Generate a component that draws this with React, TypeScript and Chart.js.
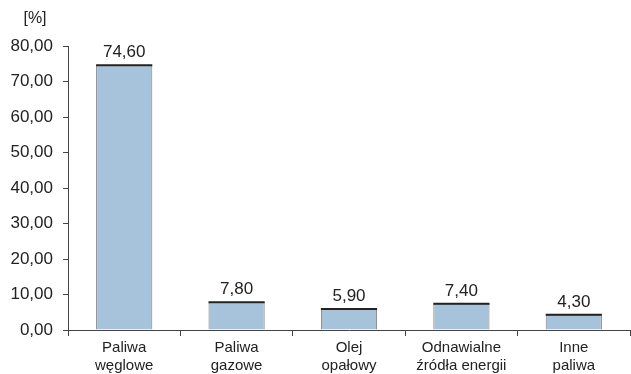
import React, { useEffect, useRef } from "react";
import { Chart, registerables } from "chart.js";

Chart.register(...registerables);

const categories: string[][] = [
  ["Paliwa", "węglowe"],
  ["Paliwa", "gazowe"],
  ["Olej", "opałowy"],
  ["Odnawialne", "źródła energii"],
  ["Inne", "paliwa"],
];
const values: number[] = [74.6, 7.8, 5.9, 7.4, 4.3];
const yUnit = "[%]";

const fmt = (v: number) => v.toFixed(2).replace(".", ",");

const FONT = "'Liberation Sans', Arial, sans-serif";

const overlayPlugin = {
  id: "overlay",
  afterDatasetsDraw(chart: any) {
    const ctx = chart.ctx;
    const meta = chart.getDatasetMeta(0);
    ctx.save();
    meta.data.forEach((bar: any, i: number) => {
      const half = bar.width / 2;
      ctx.strokeStyle = "#222";
      ctx.lineWidth = 2;
      ctx.beginPath();
      ctx.moveTo(bar.x - half, bar.y);
      ctx.lineTo(bar.x + half, bar.y);
      ctx.stroke();
      ctx.fillStyle = "#222";
      ctx.font = `17px ${FONT}`;
      ctx.textAlign = "center";
      ctx.textBaseline = "alphabetic";
      ctx.fillText(fmt(values[i]), bar.x, bar.y - 8);
    });
    ctx.fillStyle = "#222";
    ctx.font = `16px ${FONT}`;
    ctx.textAlign = "center";
    ctx.textBaseline = "middle";
    ctx.fillText(yUnit, 35, 19);
    ctx.restore();
  },
};

export default function App() {
  const ref = useRef<HTMLCanvasElement>(null);
  useEffect(() => {
    document.body.style.margin = "0";
    const chart = new Chart(ref.current as HTMLCanvasElement, {
      type: "bar",
      data: {
        labels: categories,
        datasets: [
          {
            data: values,
            backgroundColor: "#a7c3dc",
            borderColor: "#7f7f7f",
            borderWidth: { left: 1, right: 1, top: 1, bottom: 0 },
            borderSkipped: false,
            categoryPercentage: 1,
            barPercentage: 0.5,
          },
        ],
      },
      options: {
        responsive: false,
        animation: false,
        devicePixelRatio: 1,
        layout: { padding: { top: 46, right: 1, left: 0, bottom: 0 } },
        plugins: { legend: { display: false }, tooltip: { enabled: false } },
        scales: {
          x: {
            grid: {
              drawOnChartArea: false,
              drawTicks: true,
              tickLength: 6,
              color: "#444",
              offset: true,
            },
            border: { color: "#444", width: 1 },
            ticks: {
              color: "#222",
              font: { family: FONT, size: 15, lineHeight: 1.2 },
              padding: 3,
              maxRotation: 0,
              autoSkip: false,
            },
            afterFit(scale: any) {
              scale.height = 44;
            },
          },
          y: {
            min: 0,
            max: 80,
            ticks: {
              stepSize: 10,
              color: "#222",
              font: { family: FONT, size: 17 },
              padding: 10,
              callback: (v: any) => fmt(Number(v)),
            },
            grid: {
              drawOnChartArea: false,
              drawTicks: true,
              tickLength: 5,
              color: "#444",
            },
            border: { color: "#444", width: 1 },
            afterFit(scale: any) {
              scale.width = 68;
            },
          },
        },
      },
      plugins: [overlayPlugin],
    });
    return () => chart.destroy();
  }, []);
  return <canvas ref={ref} width={631} height={374} />;
}
